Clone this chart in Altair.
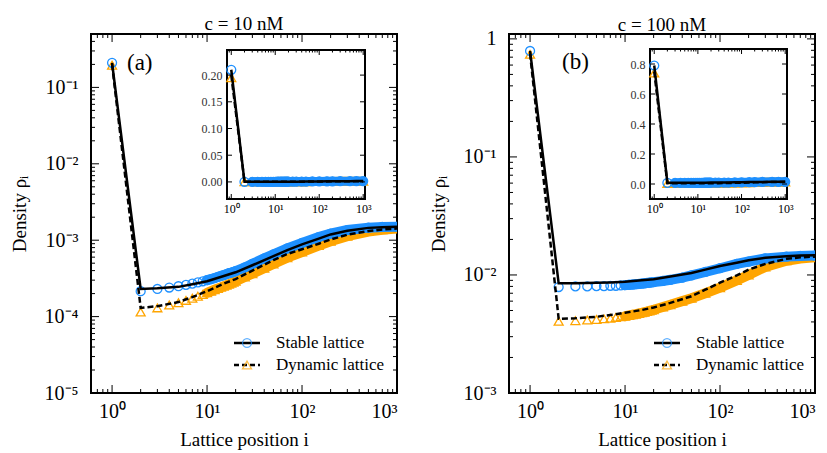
import altair as alt
import pandas as pd

# ------------------------------------------------------------------ data
LINE_I = [1, 2, 3, 5, 7, 10, 15, 20, 30, 50, 70, 100, 150, 200, 300, 500, 700, 1000]
MARK_I = list(range(1, 21)) + [25, 30, 40, 50, 70, 100, 150, 200, 300, 500, 700, 1000]

# panel (a): c = 10 nM
A_STABLE_LINE = [0.21, 2.3e-4, 2.35e-4, 2.45e-4, 2.65e-4, 2.9e-4, 3.4e-4, 3.8e-4, 4.7e-4,
                 6.2e-4, 7.4e-4, 8.8e-4, 1.05e-3, 1.19e-3, 1.33e-3, 1.45e-3, 1.48e-3, 1.5e-3]
A_DYN_LINE = [0.20, 1.3e-4, 1.37e-4, 1.55e-4, 1.8e-4, 2.15e-4, 2.7e-4, 3.1e-4, 4.0e-4,
              5.5e-4, 6.6e-4, 7.6e-4, 9.0e-4, 1.02e-3, 1.18e-3, 1.32e-3, 1.38e-3, 1.42e-3]
A_STABLE_MARK = [0.21, 2.15e-4, 2.3e-4, 2.4e-4, 2.5e-4, 2.6e-4, 2.7e-4, 2.8e-4, 2.9e-4, 3.0e-4,
                 3.1e-4, 3.2e-4, 3.3e-4, 3.4e-4, 3.5e-4, 3.6e-4, 3.7e-4, 3.75e-4, 3.85e-4, 3.95e-4,
                 4.4e-4, 4.9e-4, 5.8e-4, 6.5e-4, 7.8e-4, 9.2e-4, 1.1e-3, 1.22e-3, 1.36e-3,
                 1.46e-3, 1.49e-3, 1.5e-3]
A_DYN_MARK = [0.195, 1.15e-4, 1.3e-4, 1.42e-4, 1.52e-4, 1.63e-4, 1.74e-4, 1.85e-4, 1.95e-4, 2.05e-4,
              2.15e-4, 2.25e-4, 2.33e-4, 2.42e-4, 2.5e-4, 2.58e-4, 2.66e-4, 2.74e-4, 2.82e-4, 2.9e-4,
              3.3e-4, 3.65e-4, 4.3e-4, 4.9e-4, 5.9e-4, 7.0e-4, 8.5e-4, 9.7e-4, 1.13e-3,
              1.3e-3, 1.37e-3, 1.42e-3]

# panel (b): c = 100 nM
B_STABLE_LINE = [0.79, 8.5e-3, 8.5e-3, 8.6e-3, 8.65e-3, 8.75e-3, 9.0e-3, 9.2e-3, 9.7e-3,
                 1.04e-2, 1.11e-2, 1.19e-2, 1.27e-2, 1.33e-2, 1.4e-2, 1.44e-2, 1.46e-2, 1.47e-2]
B_DYN_LINE = [0.75, 4.25e-3, 4.3e-3, 4.42e-3, 4.58e-3, 4.78e-3, 5.05e-3, 5.3e-3, 5.8e-3,
              6.6e-3, 7.5e-3, 8.6e-3, 9.9e-3, 1.11e-2, 1.24e-2, 1.37e-2, 1.41e-2, 1.43e-2]
B_STABLE_MARK = [0.79, 7.9e-3, 8.0e-3, 8.0e-3, 8.05e-3, 8.05e-3, 8.1e-3, 8.1e-3, 8.15e-3, 8.2e-3,
                 8.25e-3, 8.3e-3, 8.35e-3, 8.4e-3, 8.45e-3, 8.5e-3, 8.55e-3, 8.6e-3, 8.65e-3, 8.7e-3,
                 8.9e-3, 9.1e-3, 9.5e-3, 9.9e-3, 1.06e-2, 1.14e-2, 1.24e-2, 1.3e-2, 1.38e-2,
                 1.43e-2, 1.45e-2, 1.46e-2]
B_DYN_MARK = [0.74, 4.05e-3, 4.1e-3, 4.15e-3, 4.2e-3, 4.25e-3, 4.3e-3, 4.36e-3, 4.42e-3, 4.48e-3,
              4.54e-3, 4.6e-3, 4.66e-3, 4.72e-3, 4.78e-3, 4.84e-3, 4.9e-3, 4.96e-3, 5.02e-3, 5.08e-3,
              5.35e-3, 5.6e-3, 6.0e-3, 6.35e-3, 7.0e-3, 7.8e-3, 9.0e-3, 1.0e-2, 1.17e-2,
              1.32e-2, 1.38e-2, 1.41e-2]

TITLES = ["c = 10 nM", "c = 100 nM"]
TAGS = ["(a)", "(b)"]
LEGEND_LABELS = ["Stable lattice", "Dynamic lattice"]
X_TICKS = [1, 10, 100, 1000]
A_Y_TICKS = [1e-5, 1e-4, 1e-3, 1e-2, 1e-1]
B_Y_TICKS = [1e-3, 1e-2, 1e-1, 1]
A_INSET_Y = [0.0, 0.05, 0.10, 0.15, 0.20]
B_INSET_Y = [0.0, 0.2, 0.4, 0.6, 0.8]

# ------------------------------------------------------------------ style
BLUE = "#1E90FF"
ORANGE = "#FFA500"
FONT = "Liberation Serif, Times New Roman, serif"
W, H = 306, 359


def minors(lo_exp, hi_exp, lo=None, hi=None):
    out = []
    for e in range(lo_exp, hi_exp):
        for m in range(2, 10):
            v = m * 10.0 ** e
            if (lo is None or v > lo) and (hi is None or v < hi):
                out.append(v)
    return out


def exp_label(one=False):
    e = "round(log(datum.value)/LN10)"
    sup = "['⁰','¹','²','³','⁴','⁵','⁶']"
    expr = f"'10' + ({e} < 0 ? '⁻' : '') + {sup}[abs({e})]"
    if one:
        expr = f"{e} == 0 ? '1' : " + expr
    return expr


def tick_layers(vals, scale, axis, ch, lo, hi, size, sw=1.0):
    df = pd.DataFrame({"v": vals})
    base = alt.Chart(df)
    if ch == "x":
        enc = alt.X("v:Q", scale=scale, axis=axis)
        a = base.mark_rule(color="black", strokeWidth=sw).encode(
            x=enc, y=alt.value(lo), y2=alt.value(lo + size))
        b = base.mark_rule(color="black", strokeWidth=sw).encode(
            x=enc, y=alt.value(hi - size), y2=alt.value(hi))
    else:
        enc = alt.Y("v:Q", scale=scale, axis=axis)
        a = base.mark_rule(color="black", strokeWidth=sw).encode(
            y=enc, x=alt.value(lo), x2=alt.value(lo + size))
        b = base.mark_rule(color="black", strokeWidth=sw).encode(
            y=enc, x=alt.value(hi - size), x2=alt.value(hi))
    return [a, b]


def series_layers(line_df, mark_df, xs, ys, xaxis, yaxis, band_w=10, band_from=10,
                  msize=80, clip=True):
    X = lambda: alt.X("i:Q", scale=xs, axis=xaxis)
    Y = lambda: alt.Y("rho:Q", scale=ys, axis=yaxis)
    layers = []
    for ser, col, shape in [("dyn", ORANGE, "triangle-up"), ("stable", BLUE, "circle")]:
        m = mark_df[mark_df.series == ser]
        band = m[m.i >= band_from]
        layers.append(alt.Chart(band).mark_line(color=col, strokeWidth=band_w, strokeCap="round",
                                                clip=clip).encode(x=X(), y=Y(), order="i:Q"))
        layers.append(alt.Chart(m).mark_point(shape=shape, filled=False, color=col, size=msize,
                                              strokeWidth=1.3, opacity=1, clip=clip).encode(x=X(), y=Y()))
    s = line_df[line_df.series == "stable"]
    d = line_df[line_df.series == "dyn"]
    layers.append(alt.Chart(d).mark_line(color="black", strokeWidth=2.5, strokeDash=[6, 3],
                                         clip=clip).encode(x=X(), y=Y(), order="i:Q"))
    layers.append(alt.Chart(s).mark_line(color="black", strokeWidth=2.5, clip=clip).encode(
        x=X(), y=Y(), order="i:Q"))
    return layers


def panel(k, sline, dline, smark, dmark, y_dom, y_ticks, y_minor, one, inset_dom, inset_vals,
          inset_fmt, inset_x, inset_y, leg_x, tag_xy, title_dy):
    line_df = pd.DataFrame({"i": LINE_I * 2, "rho": sline + dline,
                            "series": ["stable"] * len(LINE_I) + ["dyn"] * len(LINE_I)})
    mark_df = pd.DataFrame({"i": MARK_I * 2, "rho": smark + dmark,
                            "series": ["stable"] * len(MARK_I) + ["dyn"] * len(MARK_I)})

    xs = alt.Scale(type="log", domain=[0.6, 1000], nice=False)
    ys = alt.Scale(type="log", domain=y_dom, nice=False)
    xaxis = alt.Axis(values=X_TICKS, labelExpr=exp_label(), labelFontSize=20, labelPadding=8,
                     title="Lattice position i", titleFontSize=19, titlePadding=9)
    yaxis = alt.Axis(values=y_ticks, labelExpr=exp_label(one), labelFontSize=20, labelPadding=13,
                     title="Density ρᵢ", titleFontSize=19, titlePadding=15)

    main = series_layers(line_df, mark_df, xs, ys, xaxis, yaxis)
    main += tick_layers(X_TICKS, xs, xaxis, "x", 0, H, 8)
    main += tick_layers(minors(-1, 3, lo=0.6), xs, xaxis, "x", 0, H, 4)
    main += tick_layers(y_ticks, ys, yaxis, "y", 0, W, 8)
    main += tick_layers(y_minor, ys, yaxis, "y", 0, W, 4)

    one_row = pd.DataFrame({"a": [0]})
    lx0, ly = leg_x, [309, 331]
    main.append(alt.Chart(one_row).mark_rule(color="black", strokeWidth=2.5).encode(
        x=alt.value(lx0), x2=alt.value(lx0 + 26), y=alt.value(ly[0])))
    main.append(alt.Chart(one_row).mark_rule(color="black", strokeWidth=2.5, strokeDash=[5, 3]).encode(
        x=alt.value(lx0), x2=alt.value(lx0 + 26), y=alt.value(ly[1])))
    main.append(alt.Chart(one_row).mark_point(shape="circle", filled=False, color=BLUE, size=80,
                                              strokeWidth=1.3).encode(
        x=alt.value(lx0 + 13), y=alt.value(ly[0])))
    main.append(alt.Chart(one_row).mark_point(shape="triangle-up", filled=False, color=ORANGE, size=80,
                                              strokeWidth=1.3).encode(
        x=alt.value(lx0 + 13), y=alt.value(ly[1])))
    for lab, yy in zip(LEGEND_LABELS, ly):
        main.append(alt.Chart(one_row).mark_text(align="left", baseline="middle", font=FONT,
                                                 fontSize=17, color="black").encode(
            x=alt.value(lx0 + 42), y=alt.value(yy), text=alt.value(lab)))
    main.append(alt.Chart(one_row).mark_text(align="left", baseline="middle", font=FONT,
                                             fontSize=23, color="black").encode(
        x=alt.value(tag_xy[0]), y=alt.value(tag_xy[1]), text=alt.value(TAGS[k])))

    # ---------------- inset
    ix0, ix1 = inset_x
    iy0, iy1 = inset_y  # bottom, top (pixels)
    xi = alt.Scale(type="log", domain=[0.8, 1100], range=[ix0, ix1], nice=False)
    yi = alt.Scale(domain=inset_dom, range=[iy0, iy1], nice=False, zero=False)
    ixaxis = alt.Axis(values=X_TICKS, labelExpr=exp_label(), labelFontSize=12, labelPadding=4,
                      orient="bottom", offset=-(H - iy0), title=None)
    iyaxis = alt.Axis(values=inset_vals, format=inset_fmt, labelFontSize=12, labelPadding=5,
                      orient="left", offset=-ix0, title=None, labelColor="#333333")
    inset = [alt.Chart(one_row).mark_rect(fill="white", stroke="black", strokeWidth=2).encode(
        x=alt.value(ix0), x2=alt.value(ix1), y=alt.value(iy1), y2=alt.value(iy0))]
    inset += series_layers(line_df, mark_df, xi, yi, ixaxis, iyaxis, band_w=9, band_from=3,
                           msize=80, clip=False)
    inset += tick_layers(X_TICKS, xi, ixaxis, "x", iy1, iy0, 5)
    inset += tick_layers(minors(-1, 3, lo=0.79), xi, ixaxis, "x", iy1, iy0, 2.5)
    inset += tick_layers(inset_vals, yi, iyaxis, "y", ix0, ix1, 5)

    return alt.layer(alt.layer(*main), alt.layer(*inset)).resolve_scale(
        x="independent", y="independent").properties(
        width=W, height=H,
        title=alt.TitleParams(TITLES[k], font=FONT, fontSize=19, fontWeight="normal",
                              offset=0, frame="group", dy=title_dy))


pa = panel(0, A_STABLE_LINE, A_DYN_LINE, A_STABLE_MARK, A_DYN_MARK, [1e-5, 0.5], A_Y_TICKS,
           minors(-5, 0, hi=0.5), False, [-0.032, 0.247], A_INSET_Y, ".2f",
           (136, 274), (165, 16), 143, (36, 29), 0)
pb = panel(1, B_STABLE_LINE, B_DYN_LINE, B_STABLE_MARK, B_DYN_MARK, [1e-3, 1.1], B_Y_TICKS,
           minors(-3, 0), True, [-0.1, 0.9], B_INSET_Y, ".1f",
           (141, 278), (165, 15), 145, (53, 28), 6)

chart = alt.hconcat(pa, pb, spacing=29).properties(
    padding={"left": 9, "top": 13, "right": 0, "bottom": 0}
).configure_view(stroke="black", strokeWidth=2).configure_axis(
    grid=False, domain=False, ticks=False, labelFont=FONT, titleFont=FONT,
    labelColor="black", titleColor="black", titleFontWeight="normal")

chart.save("out.html", embed_options={"renderer": "svg", "actions": False})
